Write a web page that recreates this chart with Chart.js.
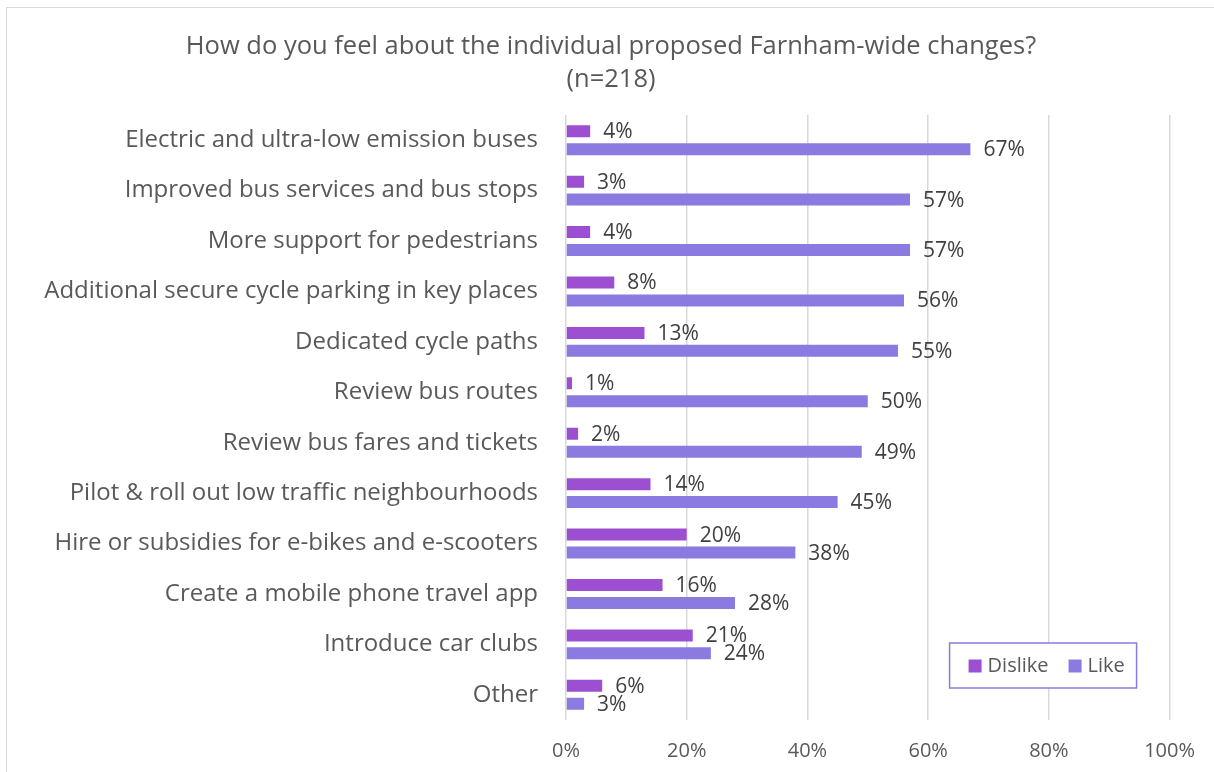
<!DOCTYPE html>
<html>
<head>
<meta charset="utf-8">
<script src="https://cdn.jsdelivr.net/npm/chart.js@4"></script>
<style>
  html, body { margin: 0; padding: 0; background: #fff; overflow: hidden; }
  #frame { position: absolute; left: 6px; top: 7px; width: 1230px; height: 790px; border: 1px solid #d9d9d9; }
  #wrap { position: absolute; left: 0; top: 0; width: 1214px; height: 772px; }
</style>
</head>
<body>
<div id="frame"></div>
<div id="wrap"><canvas id="chart"></canvas></div>
<script>
const titleLines = ['How do you feel about the individual proposed Farnham-wide changes?', '(n=218)'];
const categories = [
    'Electric and ultra-low emission buses',
    'Improved bus services and bus stops',
    'More support for pedestrians',
    'Additional secure cycle parking in key places',
    'Dedicated cycle paths',
    'Review bus routes',
    'Review bus fares and tickets',
    'Pilot & roll out low traffic neighbourhoods',
    'Hire or subsidies for e-bikes and e-scooters',
    'Create a mobile phone travel app',
    'Introduce car clubs',
    'Other'
];
const dislikeValues = [4, 3, 4, 8, 13, 1, 2, 14, 20, 16, 21, 6];
const likeValues = [67, 57, 57, 56, 55, 50, 49, 45, 38, 28, 24, 3];
const xTicks = [0, 20, 40, 60, 80, 100];

const FONT = '"Open Sans", sans-serif';
const TEXT = '#595959';

// two-line title, centred on the whole frame
const frameTitle = {
    id: 'frameTitle',
    afterDraw(chart) {
        const ctx = chart.ctx;
        ctx.save();
        ctx.font = '25.5px ' + FONT;
        ctx.fillStyle = TEXT;
        ctx.textAlign = 'center';
        ctx.textBaseline = 'middle';
        titleLines.forEach((line, i) => {
            ctx.fillText(line, chart.width / 2 + 4, 47 + i * 33);
        });
        ctx.restore();
    }
};

// value labels to the right of each bar
const barLabels = {
    id: 'barLabels',
    afterDatasetsDraw(chart) {
        const ctx = chart.ctx;
        ctx.save();
        ctx.font = '21px ' + FONT;
        ctx.fillStyle = '#404040';
        ctx.textBaseline = 'middle';
        chart.data.datasets.forEach((ds, i) => {
            chart.getDatasetMeta(i).data.forEach((bar, j) => {
                ctx.fillText(ds.data[j] + '%', bar.x + 13, bar.y + 1);
            });
        });
        ctx.restore();
    }
};

// boxed legend in the lower right of the plot
const boxLegend = {
    id: 'boxLegend',
    afterDraw(chart) {
        const ctx = chart.ctx;
        const area = chart.chartArea;
        const x = area.right - 220, y = area.bottom - 77, w = 187, h = 45;
        ctx.save();
        ctx.fillStyle = '#fff';
        ctx.fillRect(x, y, w, h);
        ctx.strokeStyle = '#8b7be1';
        ctx.lineWidth = 1.5;
        ctx.strokeRect(x, y, w, h);
        ctx.font = '20px ' + FONT;
        ctx.textBaseline = 'middle';
        let cx = x + 19;
        chart.data.datasets.forEach(ds => {
            ctx.fillStyle = ds.backgroundColor;
            ctx.fillRect(cx, y + h / 2 - 6, 13, 13);
            ctx.fillStyle = TEXT;
            ctx.fillText(ds.label, cx + 19, y + h / 2 + 1);
            cx += 100;
        });
        ctx.restore();
    }
};

new Chart(document.getElementById('chart'), {
    type: 'bar',
    data: {
        labels: categories,
        datasets: [
            { label: 'Dislike', data: dislikeValues, backgroundColor: '#9c50d1' },
            { label: 'Like', data: likeValues, backgroundColor: '#8b7be1' }
        ]
    },
    options: {
        indexAxis: 'y',
        responsive: true,
        maintainAspectRatio: false,
        animation: false,
        categoryPercentage: 0.713,
        barPercentage: 0.667,
        layout: { padding: { top: 115, right: 41, bottom: 10, left: 0 } },
        plugins: {
            legend: { display: false },
            tooltip: { enabled: false },
            title: { display: false }
        },
        scales: {
            x: {
                min: 0,
                max: 100,
                afterBuildTicks(scale) { scale.ticks = xTicks.map(v => ({ value: v })); },
                afterFit(scale) { scale.height = 42; },
                grid: { color: '#d9d9d9', lineWidth: 1.5, drawTicks: false },
                border: { display: false },
                ticks: {
                    color: TEXT,
                    padding: 19,
                    font: { family: FONT, size: 20 },
                    callback: v => v + '%'
                }
            },
            y: {
                afterFit(scale) { scale.width = 566; },
                grid: { display: false, drawTicks: false },
                border: { display: false },
                ticks: {
                    color: TEXT,
                    padding: 28,
                    font: { family: FONT, size: 24 }
                }
            }
        }
    },
    plugins: [frameTitle, barLabels, boxLegend]
});
</script>
</body>
</html>
